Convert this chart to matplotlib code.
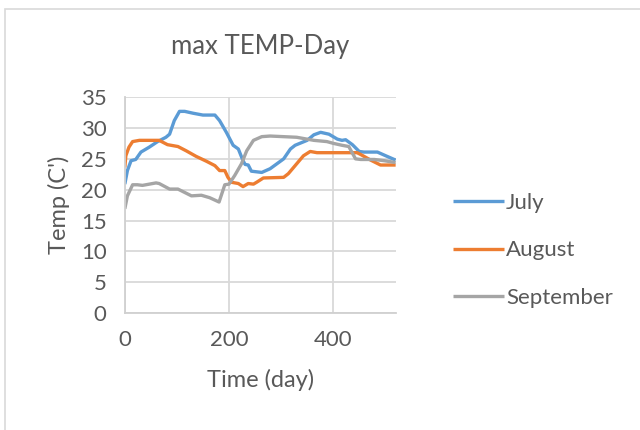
import numpy as np
import matplotlib.pyplot as plt
from matplotlib.patches import Rectangle

# max temperature per day, three months
july_day = [0, 5, 12, 21, 31, 47, 63, 79, 86, 95, 105, 115, 131, 150, 173, 182, 195, 208, 218,
            227, 231, 237, 243, 263, 279, 305, 318, 327, 350, 363, 376, 392, 408, 417, 424, 437,
            450, 459, 485, 501, 520]
july_temp = [20.9, 23.1, 24.7, 24.9, 26.1, 26.9, 27.8, 28.5, 29.0, 31.2, 32.7, 32.7, 32.4, 32.1,
             32.1, 31.2, 29.3, 27.2, 26.6, 24.7, 24.1, 24.0, 23.0, 22.8, 23.4, 25.0, 26.6, 27.2,
             28.0, 28.9, 29.3, 29.0, 28.2, 28.0, 28.1, 27.3, 26.2, 26.1, 26.1, 25.5, 24.8]

aug_day = [0, 2, 8, 15, 28, 60, 66, 82, 102, 118, 137, 157, 173, 182, 192, 198, 205, 218, 227,
           237, 247, 253, 266, 305, 314, 330, 343, 356, 369, 446, 453, 472, 491, 520]
aug_temp = [23.6, 25.5, 26.9, 27.8, 28.0, 28.0, 28.0, 27.3, 27.0, 26.3, 25.4, 24.6, 23.9, 23.1,
            23.1, 22.0, 21.2, 21.0, 20.5, 21.0, 20.9, 21.2, 21.9, 22.0, 22.6, 24.2, 25.5, 26.2,
            26.0, 26.0, 25.7, 24.8, 24.0, 24.0]

sep_day = [0, 5, 15, 24, 34, 60, 66, 86, 102, 128, 147, 163, 181, 192, 200, 211, 224, 234, 247,
           263, 279, 330, 363, 388, 401, 417, 430, 443, 453, 479, 498, 520]
sep_temp = [16.9, 19.0, 20.8, 20.8, 20.7, 21.1, 21.0, 20.1, 20.1, 19.0, 19.1, 18.7, 18.0, 20.8,
            20.9, 22.3, 24.2, 26.3, 28.0, 28.6, 28.7, 28.5, 28.0, 27.8, 27.5, 27.2, 27.0, 25.0,
            24.9, 24.9, 24.7, 24.4]

navn = ["July", "August", "September"]
farger = ["#5b9bd5", "#ed7d31", "#a5a5a5"]

plt.rcParams['font.family'] = ['Lato', 'DejaVu Sans']
tekst = "#595959"

fig = plt.figure(figsize=(6.4, 4.3), dpi=100)
ax = fig.add_axes([0.195, 0.272, 0.424, 0.502])

for d, t, n, f in zip([july_day, aug_day, sep_day], [july_temp, aug_temp, sep_temp], navn, farger):
    ax.plot(d, t, color=f, lw=2.4, label=n, solid_capstyle="butt")

ax.set_xlim(0, 521)
ax.set_ylim(0, 35)
ax.set_xticks([0, 200, 400])
ax.set_yticks(np.arange(0, 36, 5))
ax.grid(True, color="#d9d9d9", lw=1.3)
ax.set_axisbelow(True)
for s in ["top", "right"]:
    ax.spines[s].set_visible(False)
for s in ["left", "bottom"]:
    ax.spines[s].set_color("#d0d0d0")
    ax.spines[s].set_linewidth(1.3)
ax.tick_params(length=0, labelsize=16, colors=tekst)
ax.tick_params(axis="x", pad=12)
ax.tick_params(axis="y", pad=13)

ax.set_title("max TEMP-Day", fontsize=18.5, color=tekst, pad=31)
ax.set_xlabel("Time (day)", fontsize=17, color=tekst, labelpad=14)
ax.set_ylabel("Temp (C')", fontsize=17, color=tekst, labelpad=8)

ax.legend(loc="center left", bbox_to_anchor=(1.135, 0.29), frameon=False, fontsize=16,
          handlelength=2.3, handletextpad=0.1, labelspacing=1.25, labelcolor=tekst)

# tynn ramme rundt hele figuren
fig.patches.append(Rectangle((5/640, -0.1), 1.0, (421/430) + 0.1, transform=fig.transFigure,
                             fill=False, edgecolor="#d9d9d9", lw=1.2))

fig.savefig("out.png", dpi=100)
